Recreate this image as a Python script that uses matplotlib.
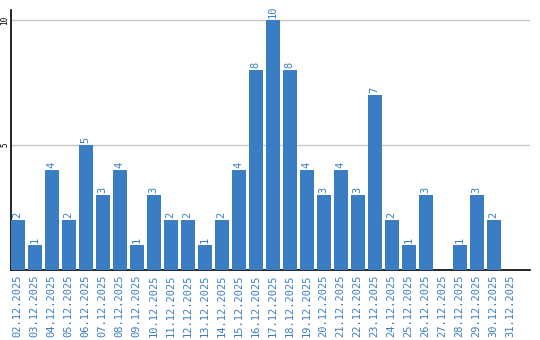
import matplotlib
matplotlib.use("Agg")
import matplotlib.pyplot as plt
import numpy as np

dates = ["%02d.12.2025" % d for d in range(2, 32)]
counts = [2, 1, 4, 2, 5, 3, 4, 1, 3, 2, 2, 1, 2, 4, 8, 10, 8, 4, 3, 4, 3, 7, 2, 1, 3, 0, 1, 3, 2, 0]
yticks = [5, 10]

blue = "#3b7dc3"
fig = plt.figure(figsize=(5.4, 3.4), dpi=100)
ax = fig.add_axes([10.5/540, 70/340, 519.5/540, 260/340])

x = np.arange(len(dates))
ax.bar(x, counts, width=0.82, color=blue, zorder=3)
for xi, v in zip(x, counts):
    if v > 0:
        ax.text(xi, v + 0.08, str(v), rotation=90, ha="center", va="bottom",
                color=blue, fontsize=7.5, family="DejaVu Sans Mono")

ax.set_xlim(-0.42, -0.42 + 519.5 / 17)
ax.set_ylim(0, 10.4)
ax.set_yticks(yticks)
ax.set_yticklabels([str(t) for t in yticks], rotation=90, va="center",
                   fontsize=5.5, family="DejaVu Sans Mono")
ax.yaxis.grid(True, color="#c8c8c8", linewidth=1, zorder=0)
ax.tick_params(axis="y", length=0, pad=1)
ax.set_xticks(x)
ax.set_xticklabels(dates, rotation=90, color=blue, fontsize=7.5,
                   family="DejaVu Sans Mono")
ax.tick_params(axis="x", length=0, pad=3)
for s in ["top", "right"]:
    ax.spines[s].set_visible(False)
ax.spines["left"].set_linewidth(1.2)
ax.spines["bottom"].set_linewidth(1.2)

fig.savefig("out.png", dpi=100)
